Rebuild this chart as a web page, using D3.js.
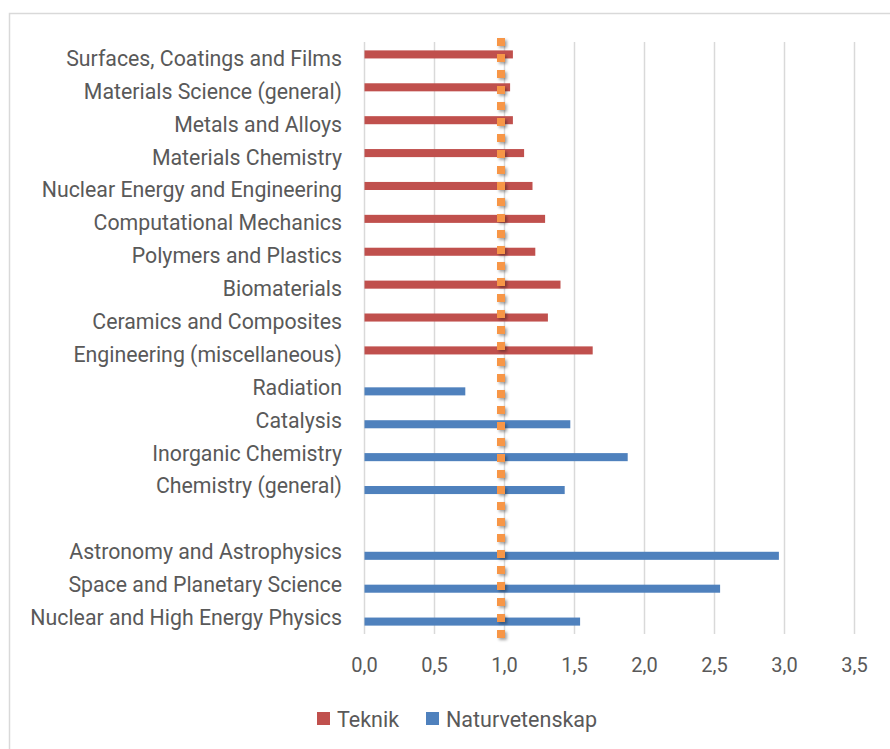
<!DOCTYPE html>
<html>
<head>
<meta charset="utf-8">
<script src="https://cdn.jsdelivr.net/npm/d3@7"></script>
<style>
  body { margin: 0; background: #fff; }
  text { font-family: Roboto, "Open Sans", sans-serif; fill: #595959; }
</style>
</head>
<body>
<script>
// categories, top to bottom ('' is the empty spacer row)
var categories = [
  'Surfaces, Coatings and Films', 'Materials Science (general)', 'Metals and Alloys',
  'Materials Chemistry', 'Nuclear Energy and Engineering', 'Computational Mechanics',
  'Polymers and Plastics', 'Biomaterials', 'Ceramics and Composites',
  'Engineering (miscellaneous)', 'Radiation', 'Catalysis', 'Inorganic Chemistry',
  'Chemistry (general)', '', 'Astronomy and Astrophysics', 'Space and Planetary Science',
  'Nuclear and High Energy Physics'
];
var teknik = [1.06, 1.04, 1.06, 1.14, 1.20, 1.29, 1.22, 1.40, 1.31, 1.63,
  null, null, null, null, null, null, null, null];
var naturvetenskap = [null, null, null, null, null, null, null, null, null, null,
  0.72, 1.47, 1.88, 1.43, null, 2.96, 2.54, 1.54];
var series = ['Teknik', 'Naturvetenskap'];
var colors = ['#c0504d', '#4f81bd'];
var xTicks = [0, 0.5, 1, 1.5, 2, 2.5, 3, 3.5];
var refValue = 0.975;

var width = 890, height = 749;
var svg = d3.select('body').append('svg')
  .attr('width', width).attr('height', height);

var defs = svg.append('defs');
defs.append('filter').attr('id', 'shadow')
  .attr('filterUnits', 'userSpaceOnUse')
  .attr('x', 0).attr('y', 0).attr('width', width).attr('height', height)
  .append('feDropShadow')
  .attr('dx', 2).attr('dy', 2).attr('stdDeviation', 1.5)
  .attr('flood-color', '#000').attr('flood-opacity', 0.35);

// chart frame
svg.append('rect')
  .attr('x', 9.5).attr('y', 13.5).attr('width', 900).attr('height', 760)
  .attr('fill', '#fff').attr('stroke', '#d9d9d9').attr('stroke-width', 1.5);

var x = d3.scaleLinear().domain([0, 3.5]).range([364.5, 854.5]);
var y = d3.scaleBand().domain(categories.map(function(d, i) { return i; }))
  .range([42, 634]).paddingInner(0.51).paddingOuter(0.255);
var y1 = d3.scaleBand().domain(series).range([0, y.bandwidth()]);

// gridlines
svg.append('g').selectAll('line')
  .data(xTicks)
  .enter().append('line')
  .attr('x1', function(d) { return x(d); })
  .attr('x2', function(d) { return x(d); })
  .attr('y1', 42).attr('y2', 634)
  .attr('stroke', '#d9d9d9').attr('stroke-width', 1.5);

// x tick labels
var fmt = d3.format('.1f');
svg.append('g').selectAll('text')
  .data(xTicks)
  .enter().append('text')
  .attr('x', function(d) { return x(d); })
  .attr('y', 672)
  .attr('text-anchor', 'middle')
  .style('font-size', '20px')
  .text(function(d) { return fmt(d).replace('.', ','); });

// category labels
svg.append('g').selectAll('text')
  .data(categories)
  .enter().append('text')
  .attr('x', 342)
  .attr('y', function(d, i) { return y(i) + y.bandwidth() / 2; })
  .attr('dy', '0.35em')
  .attr('text-anchor', 'end')
  .style('font-size', '21.3px')
  .text(function(d) { return d; });

// bars
[teknik, naturvetenskap].forEach(function(values, s) {
  svg.append('g').selectAll('rect')
    .data(values.map(function(v, i) { return { i: i, v: v }; })
      .filter(function(d) { return d.v != null; }))
    .enter().append('rect')
    .attr('x', x(0))
    .attr('y', function(d) { return y(d.i) + y1(series[s]); })
    .attr('width', function(d) { return x(d.v) - x(0); })
    .attr('height', y1.bandwidth())
    .attr('fill', colors[s]);
});

// reference line
svg.append('line')
  .attr('x1', x(refValue)).attr('x2', x(refValue))
  .attr('y1', y.range()[0] - 4).attr('y2', y.range()[1] + 4)
  .attr('stroke', '#f79646').attr('stroke-width', 8)
  .attr('stroke-dasharray', '8,8')
  .attr('filter', 'url(#shadow)');

// legend
var legend = svg.append('g').attr('transform', 'translate(317,712)');
var items = [{ name: 'Teknik', x: 0 }, { name: 'Naturvetenskap', x: 109 }];
items.forEach(function(it, s) {
  legend.append('rect')
    .attr('x', it.x).attr('y', 0).attr('width', 13).attr('height', 13)
    .attr('fill', colors[s]);
  legend.append('text')
    .attr('x', it.x + 20).attr('y', 7)
    .attr('dy', '0.35em')
    .style('font-size', '21.5px')
    .text(it.name);
});
</script>
</body>
</html>
